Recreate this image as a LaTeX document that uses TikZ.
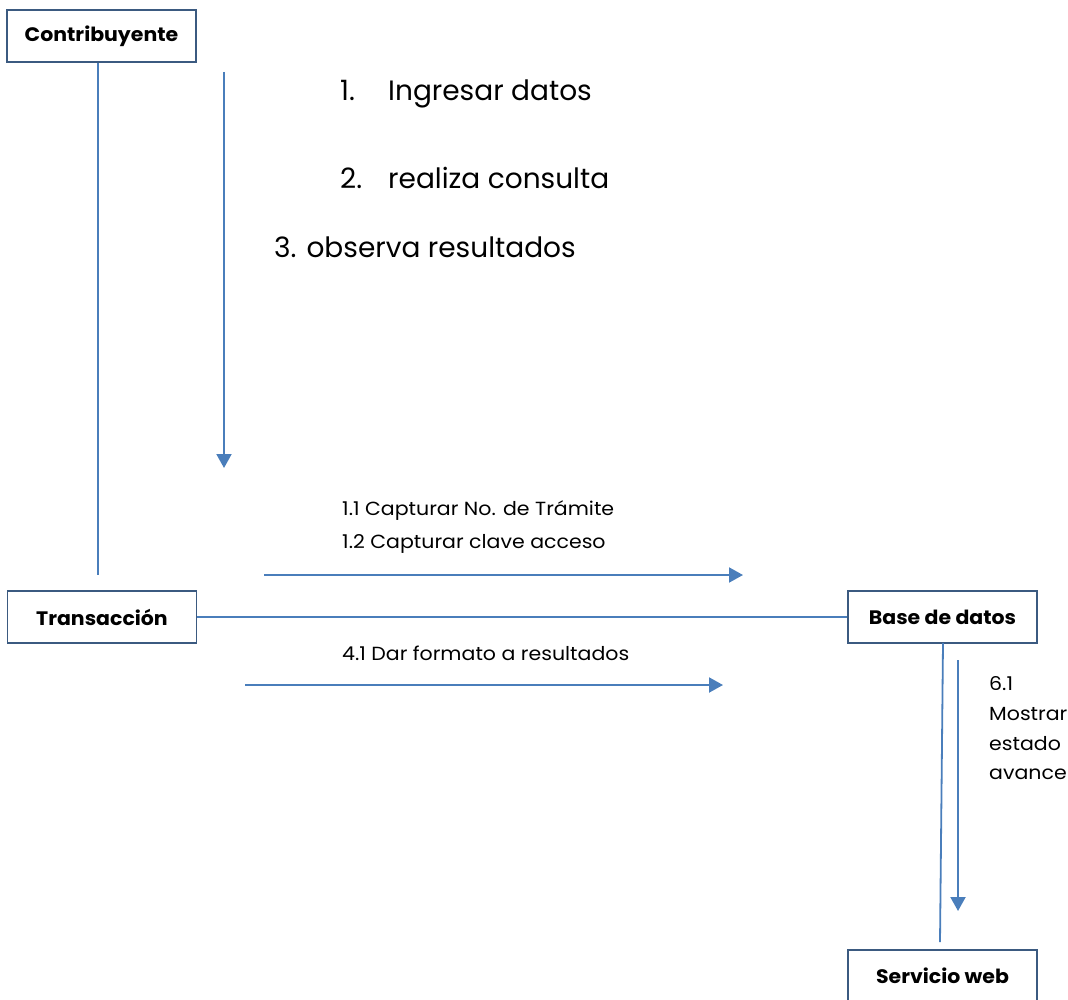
\documentclass[tikz,border=0pt]{standalone}
\usepackage{fontspec}
\setmainfont{Poppins}
\newfontfamily\widefont[FakeStretch=1.08]{Poppins}
\newfontfamily\widebold[FakeStretch=1.05]{Poppins Bold}
\usetikzlibrary{arrows.meta}
\definecolor{flowblue}{HTML}{4A7EBB}
\definecolor{boxedge}{HTML}{3B5A80}
\begin{document}
\begin{tikzpicture}[x=1pt,y=-1pt,
  actor/.style={draw=boxedge,line width=1.3pt,fill=white,minimum width=189pt,minimum height=52pt,
    inner sep=0pt,font=\widebold\fontsize{19.5}{22}\selectfont},
  link/.style={draw=flowblue,line width=1.8pt},
  msg/.style={draw=flowblue,line width=2pt,-{Triangle[length=14pt,width=15pt]}},
  small/.style={anchor=base west,inner sep=0pt,font=\widefont\fontsize{19}{22}\selectfont},
  big/.style={anchor=base west,inner sep=0pt,font=\fontsize{28}{32}\selectfont}]
\useasboundingbox (0,0) rectangle (1068,1000);

% participants
\node[actor] (contrib) at (101.5,36) {Contribuyente};
\node[actor] (trans) at (102,617) {Transacción};
\node[actor] (base) at (942.5,617) {Base de datos};
\node[actor] (serv) at (942.5,976) {Servicio web};

% links between participants
\coordinate (cEnd) at (98,575);
\draw[link] (contrib.south -| cEnd) -- (cEnd);
\draw[link] (trans.east) -- (base.west);
\coordinate (bTop) at (943,643);
\coordinate (sTop) at (940,942);
\draw[link] (bTop) -- (sTop);

% messages
\coordinate (m0s) at (224,72);  \coordinate (m0e) at (224,468);
\draw[msg] (m0s) -- (m0e);
\coordinate (m1s) at (264,575); \coordinate (m1e) at (743,575);
\draw[msg] (m1s) -- (m1e);
\coordinate (m2s) at (245,685); \coordinate (m2e) at (723,685);
\draw[msg] (m2s) -- (m2e);
\coordinate (m3s) at (958,660); \coordinate (m3e) at (958,911);
\draw[msg] (m3s) -- (m3e);

% message labels
\node[big] (l1n) at (340,101) {1.};
\node[big] (l1) at (388,101) {Ingresar datos};
\node[big] (l2n) at (340,189) {2.};
\node[big] (l2) at (388,189) {realiza consulta};
\node[big] (l3) at (274,258) {3. observa resultados};

\node[small] (t11) at (342,515) {1.1 Capturar No. de Trámite};
\node[small] (t12) at (342,548) {1.2 Capturar clave acceso};
\node[small] (t41) at (342,660) {4.1 Dar formato a resultados};

\node[small] (t61a) at (989,690) {6.1};
\node[small] (t61b) at (989,720) {Mostrar};
\node[small] (t61c) at (989,750) {estado};
\node[small] (t61d) at (989,779) {avance};
\end{tikzpicture}
\end{document}
